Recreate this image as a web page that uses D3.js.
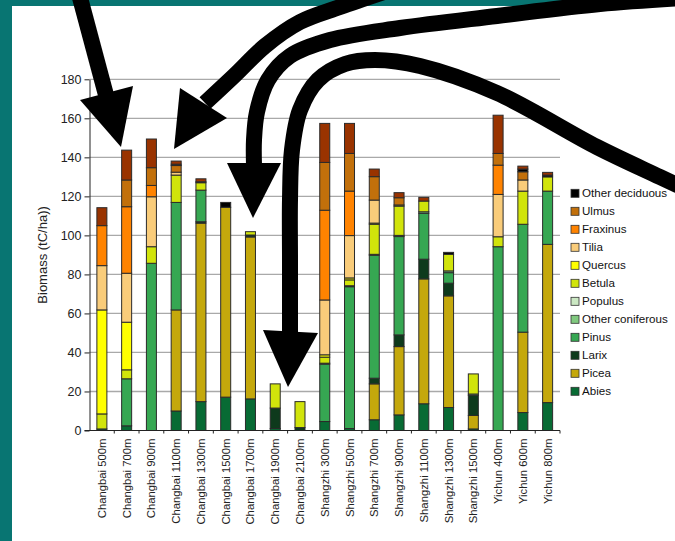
<!DOCTYPE html>
<html>
<head>
<meta charset="utf-8">
<script src="https://cdn.jsdelivr.net/npm/d3@7/dist/d3.min.js"></script>
<style>
  html, body { margin: 0; padding: 0; background: #fff; }
  svg { display: block; }
  text { font-family: "Liberation Sans", Arial, Helvetica, sans-serif; }
</style>
</head>
<body>
<svg id="chart" width="675" height="541"></svg>
<script>
// Forest plots along three elevation transects
const categories = [
  "Changbai 500m", "Changbai 700m", "Changbai 900m", "Changbai 1100m", "Changbai 1300m",
  "Changbai 1500m", "Changbai 1700m", "Changbai 1900m", "Changbai 2100m",
  "Shangzhi 300m", "Shangzhi 500m", "Shangzhi 700m", "Shangzhi 900m", "Shangzhi 1100m",
  "Shangzhi 1300m", "Shangzhi 1500m", "Yichun 400m", "Yichun 600m", "Yichun 800m"
];

// Biomass by genus (tC/ha), one value per plot, stacked bottom to top
const abies          = [0.8, 2.4, 0, 10, 14.8, 17.1, 16.2, 1, 0, 4.6, 1, 5.5, 8, 13.7, 11.8, 0.8, 0, 9.2, 14.3];
const picea          = [0, 0, 0, 51.8, 91.5, 97.3, 83, 0, 0, 0, 0, 18.4, 35, 64, 57.2, 6.9, 0, 41.2, 81.1];
const larix          = [0, 0, 0, 0, 0.7, 0, 1, 10.5, 1.5, 0, 0, 2.9, 6, 10.1, 6.5, 10.3, 0, 0, 0];
const pinus          = [0, 24.1, 85.7, 55.1, 16.2, 0, 0, 0, 0, 29.4, 72.7, 63, 50.4, 23.5, 5.4, 0, 94.2, 55.3, 27.3];
const otherConifer   = [0, 0, 0, 0, 0, 0, 0, 0, 0, 0.5, 0.5, 0.5, 0.6, 0.8, 0.9, 0.7, 0, 0, 0];
const populus        = [0, 0, 0, 0, 0, 0, 0, 0, 0, 0, 0, 0, 0, 0, 0, 0, 0, 0, 0];
const betula         = [7.7, 4.6, 8.5, 14, 3.8, 0, 1.7, 12.4, 13.3, 3.1, 3, 15.4, 15, 5.5, 8.5, 10.3, 5.1, 17, 7.3];
const quercus        = [53.3, 24.4, 0, 0, 0, 0, 0, 0, 0, 1.2, 1, 0.6, 0.6, 0, 0, 0, 0, 0, 0];
const tilia          = [22.7, 25.1, 25.6, 1.5, 0, 0, 0, 0, 0, 28.1, 21.7, 11.8, 0, 0, 0, 0, 21.7, 5.7, 0];
const fraxinus       = [20.5, 34.1, 5.8, 0, 0, 0, 0, 0, 0, 46, 22.8, 0, 0, 0, 0, 0, 15, 0, 0];
const ulmus          = [0, 13.7, 9.1, 3.4, 0, 0, 0, 0, 0, 24.5, 19.3, 12, 3.7, 0, 0, 0, 6, 4.2, 0];
const otherDeciduous = [0, 0, 0, 0.7, 0.5, 2.5, 0, 0, 0, 0, 0, 0, 0, 0, 1, 0, 0, 1.4, 0.9];
const otherBroadleaf = [9.2, 15.3, 14.7, 1.6, 1.5, 0, 0, 0, 0, 20, 15.4, 3.9, 2.6, 1.9, 0, 0, 19.6, 1.5, 1.4];

// Series in stacking order (bottom first)
const seriesNames = [
  "Abies", "Picea", "Larix", "Pinus", "Other coniferous", "Populus", "Betula",
  "Quercus", "Tilia", "Fraxinus", "Ulmus", "Other deciduous", "Other broadleaf"
];
const seriesValues = [
  abies, picea, larix, pinus, otherConifer, populus, betula,
  quercus, tilia, fraxinus, ulmus, otherDeciduous, otherBroadleaf
];
const seriesColors = [
  "#086b34", "#c4a80c", "#0e3a1c", "#36a752", "#80c97f", "#cbe8c3", "#d1e40b",
  "#ffff00", "#f9cc7a", "#ff8300", "#c2700b", "#000000", "#993300"
];
// Legend entries, listed top to bottom
const legendNames = [
  "Other deciduous", "Ulmus", "Fraxinus", "Tilia", "Quercus", "Betula",
  "Populus", "Other coniferous", "Pinus", "Larix", "Picea", "Abies"
];

const yTicks = [0, 20, 40, 60, 80, 100, 120, 140, 160, 180];
const yTitle = "Biomass (tC/ha))";

const svg = d3.select("#chart");

// frame
svg.append("rect").attr("width", 675).attr("height", 541).attr("fill", "#087572");
svg.append("rect").attr("x", 12).attr("y", 6).attr("width", 663).attr("height", 535).attr("fill", "#ffffff");

const plot = { left: 89.5, right: 560, top: 79.3, bottom: 430.5 };

const x = d3.scaleBand()
  .domain(categories)
  .range([plot.left, plot.right])
  .paddingInner(0.596)
  .paddingOuter(0.298);

const y = d3.scaleLinear().domain([0, 180]).range([plot.bottom, plot.top]);

// gridlines
svg.append("g")
  .selectAll("line")
  .data(yTicks.filter(d => d > 0))
  .join("line")
  .attr("x1", plot.left).attr("x2", plot.right)
  .attr("y1", d => y(d)).attr("y2", d => y(d))
  .attr("stroke", "#a9a9a9").attr("stroke-width", 1.3);

// stacked bars
const rows = categories.map((c, i) => {
  const r = { category: c };
  seriesNames.forEach((s, k) => { r[s] = seriesValues[k][i]; });
  return r;
});
const stacked = d3.stack().keys(seriesNames)(rows);

svg.append("g")
  .selectAll("g")
  .data(stacked)
  .join("g")
  .attr("fill", (d, k) => seriesColors[k])
  .selectAll("rect")
  .data(d => d.filter(p => p[1] - p[0] > 0))
  .join("rect")
  .attr("x", p => x(p.data.category))
  .attr("width", x.bandwidth())
  .attr("y", p => y(p[1]))
  .attr("height", p => y(p[0]) - y(p[1]))
  .attr("stroke", "#2b2b2b")
  .attr("stroke-width", 1);

// y axis
const yAxis = d3.axisLeft(y).tickValues(yTicks).tickSize(5).tickPadding(3).tickSizeOuter(0);
const gy = svg.append("g").attr("transform", `translate(${plot.left},0)`).call(yAxis);
gy.select(".domain").attr("stroke", "#222");
gy.selectAll(".tick line").attr("stroke", "#222");
gy.selectAll(".tick text")
  .attr("fill", "#222")
  .style("font-size", "12.5px")
  .style("font-family", "'Liberation Sans', Arial, sans-serif");

// x axis: category boundary ticks and rotated labels
const step = x.step();
const boundaries = d3.range(0, categories.length + 1).map(i => plot.left + i * step);
svg.append("line")
  .attr("x1", plot.left - 5).attr("x2", plot.right)
  .attr("y1", plot.bottom).attr("y2", plot.bottom)
  .attr("stroke", "#222");
svg.append("g")
  .selectAll("line")
  .data(boundaries.slice(1))
  .join("line")
  .attr("x1", d => d).attr("x2", d => d)
  .attr("y1", plot.bottom).attr("y2", plot.bottom + 3)
  .attr("stroke", "#222");

svg.append("g")
  .selectAll("text")
  .data(categories)
  .join("text")
  .attr("transform", d => `translate(${x(d) + x.bandwidth() / 2 + 4},${plot.bottom + 8}) rotate(-90)`)
  .attr("text-anchor", "end")
  .attr("fill", "#222")
  .style("font-size", "11.3px")
  .text(d => d);

// y title
svg.append("text")
  .attr("transform", `translate(47,${(plot.top + plot.bottom) / 2}) rotate(-90)`)
  .attr("text-anchor", "middle")
  .attr("fill", "#222")
  .style("font-size", "13px")
  .text(yTitle);

// legend
const colorOf = name => seriesColors[seriesNames.indexOf(name)];
const legend = svg.append("g")
  .selectAll("g")
  .data(legendNames)
  .join("g")
  .attr("transform", (d, i) => `translate(571,${193.3 + i * 18})`);
legend.append("rect")
  .attr("x", 0).attr("y", -4).attr("width", 8).attr("height", 8)
  .attr("fill", d => colorOf(d))
  .attr("stroke", "#333").attr("stroke-width", 0.8);
legend.append("text")
  .attr("x", 11).attr("y", 4)
  .attr("fill", "#111")
  .style("font-size", "11.6px")
  .text(d => d);

// call-out arrows drawn over the chart
const arrows = [
  { shaft: [[79, -6], [106, 95]], head: [[80, 100], [133, 86], [121, 147]] },
  { shaft: [[390, -10], [340, 7], [300, 22], [265, 46], [235, 75], [205, 103]],
    head: [[180, 88], [227, 118], [174, 149]] },
  { shaft: [[700, -3], [600, 4], [497, 16], [400, 28], [330, 40], [290, 56], [268, 80], [257, 112], [254, 140], [254, 165]],
    head: [[227, 163], [281, 163], [253, 218]] },
  { shaft: [[705, 198], [660, 177], [597, 147], [497, 93], [420, 66], [375, 60], [345, 64], [318, 80], [300, 110], [292, 150], [290, 200], [290, 260], [290, 332]],
    head: [[263, 330], [318, 333], [288, 387]] }
];
const shaftLine = d3.line().curve(d3.curveCatmullRom.alpha(0.5));
const ga = svg.append("g");
arrows.forEach(a => {
  ga.append("path")
    .attr("d", shaftLine(a.shaft))
    .attr("fill", "none")
    .attr("stroke", "#000")
    .attr("stroke-width", 16);
  ga.append("path")
    .attr("d", d3.line()(a.head) + "Z")
    .attr("fill", "#000");
});
</script>
</body>
</html>
